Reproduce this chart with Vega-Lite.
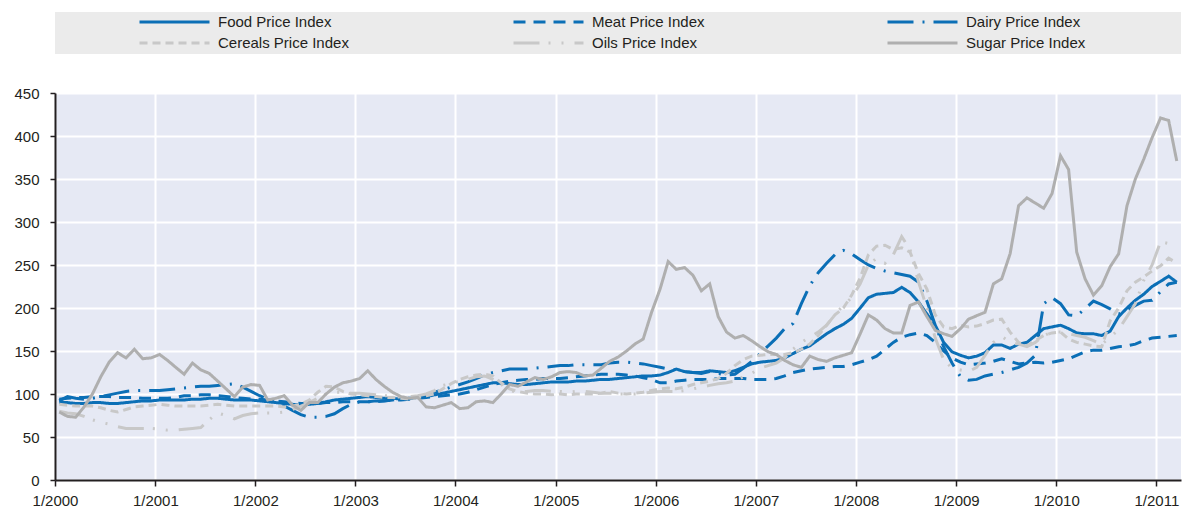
{
  "$schema": "https://vega.github.io/schema/vega-lite/v6.json",
  "autosize": {"type": "pad"},
  "padding": {"left": 13, "top": 12, "right": 0, "bottom": 0},
  "background": "#ffffff",
  "bounds": "flush",
  "spacing": 39,
  "config": {
    "font": "Liberation Sans",
    "view": {"stroke": null},
    "axis": {
      "labelFont": "Liberation Sans",
      "labelFontSize": 15,
      "labelColor": "#231f20",
      "domainColor": "#231f20",
      "domainWidth": 2,
      "tickColor": "#231f20",
      "tickWidth": 1.5,
      "gridColor": "#ffffff",
      "gridWidth": 2,
      "title": null
    },
    "legend": {
      "labelFont": "Liberation Sans"
    }
  },
  "datasets": {
    "fao": [
{"series":"Food","month":"2000-01","value":90},{"series":"Food","month":"2000-02","value":90},{"series":"Food","month":"2000-03","value":89},{"series":"Food","month":"2000-04","value":89},{"series":"Food","month":"2000-05","value":90},{"series":"Food","month":"2000-06","value":90},{"series":"Food","month":"2000-07","value":89},{"series":"Food","month":"2000-08","value":89},{"series":"Food","month":"2000-09","value":90},{"series":"Food","month":"2000-10","value":91},{"series":"Food","month":"2000-11","value":92},{"series":"Food","month":"2000-12","value":92},
{"series":"Food","month":"2001-01","value":93},{"series":"Food","month":"2001-02","value":93},{"series":"Food","month":"2001-03","value":93},{"series":"Food","month":"2001-04","value":93},{"series":"Food","month":"2001-05","value":94},{"series":"Food","month":"2001-06","value":94},{"series":"Food","month":"2001-07","value":95},{"series":"Food","month":"2001-08","value":95},{"series":"Food","month":"2001-09","value":94},{"series":"Food","month":"2001-10","value":93},{"series":"Food","month":"2001-11","value":93},{"series":"Food","month":"2001-12","value":93},
{"series":"Food","month":"2002-01","value":92},{"series":"Food","month":"2002-02","value":91},{"series":"Food","month":"2002-03","value":90},{"series":"Food","month":"2002-04","value":89},{"series":"Food","month":"2002-05","value":88},{"series":"Food","month":"2002-06","value":87},{"series":"Food","month":"2002-07","value":88},{"series":"Food","month":"2002-08","value":89},{"series":"Food","month":"2002-09","value":91},{"series":"Food","month":"2002-10","value":93},{"series":"Food","month":"2002-11","value":94},{"series":"Food","month":"2002-12","value":95},
{"series":"Food","month":"2003-01","value":96},{"series":"Food","month":"2003-02","value":97},{"series":"Food","month":"2003-03","value":96},{"series":"Food","month":"2003-04","value":95},{"series":"Food","month":"2003-05","value":95},{"series":"Food","month":"2003-06","value":94},{"series":"Food","month":"2003-07","value":95},{"series":"Food","month":"2003-08","value":96},{"series":"Food","month":"2003-09","value":97},{"series":"Food","month":"2003-10","value":99},{"series":"Food","month":"2003-11","value":101},{"series":"Food","month":"2003-12","value":103},
{"series":"Food","month":"2004-01","value":105},{"series":"Food","month":"2004-02","value":107},{"series":"Food","month":"2004-03","value":109},{"series":"Food","month":"2004-04","value":111},{"series":"Food","month":"2004-05","value":113},{"series":"Food","month":"2004-06","value":113},{"series":"Food","month":"2004-07","value":112},{"series":"Food","month":"2004-08","value":111},{"series":"Food","month":"2004-09","value":111},{"series":"Food","month":"2004-10","value":112},{"series":"Food","month":"2004-11","value":113},{"series":"Food","month":"2004-12","value":114},
{"series":"Food","month":"2005-01","value":114},{"series":"Food","month":"2005-02","value":114},{"series":"Food","month":"2005-03","value":115},{"series":"Food","month":"2005-04","value":115},{"series":"Food","month":"2005-05","value":116},{"series":"Food","month":"2005-06","value":117},{"series":"Food","month":"2005-07","value":117},{"series":"Food","month":"2005-08","value":118},{"series":"Food","month":"2005-09","value":119},{"series":"Food","month":"2005-10","value":120},{"series":"Food","month":"2005-11","value":121},{"series":"Food","month":"2005-12","value":121},
{"series":"Food","month":"2006-01","value":122},{"series":"Food","month":"2006-02","value":125},{"series":"Food","month":"2006-03","value":129},{"series":"Food","month":"2006-04","value":126},{"series":"Food","month":"2006-05","value":125},{"series":"Food","month":"2006-06","value":125},{"series":"Food","month":"2006-07","value":127},{"series":"Food","month":"2006-08","value":126},{"series":"Food","month":"2006-09","value":125},{"series":"Food","month":"2006-10","value":127},{"series":"Food","month":"2006-11","value":131},{"series":"Food","month":"2006-12","value":135},
{"series":"Food","month":"2007-01","value":137},{"series":"Food","month":"2007-02","value":138},{"series":"Food","month":"2007-03","value":139},{"series":"Food","month":"2007-04","value":142},{"series":"Food","month":"2007-05","value":147},{"series":"Food","month":"2007-06","value":152},{"series":"Food","month":"2007-07","value":156},{"series":"Food","month":"2007-08","value":163},{"series":"Food","month":"2007-09","value":170},{"series":"Food","month":"2007-10","value":176},{"series":"Food","month":"2007-11","value":181},{"series":"Food","month":"2007-12","value":188},
{"series":"Food","month":"2008-01","value":200},{"series":"Food","month":"2008-02","value":212},{"series":"Food","month":"2008-03","value":216},{"series":"Food","month":"2008-04","value":217},{"series":"Food","month":"2008-05","value":218},{"series":"Food","month":"2008-06","value":224},{"series":"Food","month":"2008-07","value":218},{"series":"Food","month":"2008-08","value":207},{"series":"Food","month":"2008-09","value":193},{"series":"Food","month":"2008-10","value":180},{"series":"Food","month":"2008-11","value":160},{"series":"Food","month":"2008-12","value":149},
{"series":"Food","month":"2009-01","value":145},{"series":"Food","month":"2009-02","value":142},{"series":"Food","month":"2009-03","value":144},{"series":"Food","month":"2009-04","value":148},{"series":"Food","month":"2009-05","value":157},{"series":"Food","month":"2009-06","value":157},{"series":"Food","month":"2009-07","value":153},{"series":"Food","month":"2009-08","value":158},{"series":"Food","month":"2009-09","value":160},{"series":"Food","month":"2009-10","value":168},{"series":"Food","month":"2009-11","value":176},{"series":"Food","month":"2009-12","value":178},
{"series":"Food","month":"2010-01","value":180},{"series":"Food","month":"2010-02","value":176},{"series":"Food","month":"2010-03","value":171},{"series":"Food","month":"2010-04","value":170},{"series":"Food","month":"2010-05","value":170},{"series":"Food","month":"2010-06","value":168},{"series":"Food","month":"2010-07","value":173},{"series":"Food","month":"2010-08","value":190},{"series":"Food","month":"2010-09","value":200},{"series":"Food","month":"2010-10","value":209},{"series":"Food","month":"2010-11","value":216},{"series":"Food","month":"2010-12","value":225},
{"series":"Food","month":"2011-01","value":231},{"series":"Food","month":"2011-02","value":237},{"series":"Food","month":"2011-03","value":230},
{"series":"Meat","month":"2000-01","value":94},{"series":"Meat","month":"2000-02","value":95},{"series":"Meat","month":"2000-03","value":96},{"series":"Meat","month":"2000-04","value":96},{"series":"Meat","month":"2000-05","value":97},{"series":"Meat","month":"2000-06","value":97},{"series":"Meat","month":"2000-07","value":97},{"series":"Meat","month":"2000-08","value":96},{"series":"Meat","month":"2000-09","value":96},{"series":"Meat","month":"2000-10","value":96},{"series":"Meat","month":"2000-11","value":95},{"series":"Meat","month":"2000-12","value":95},
{"series":"Meat","month":"2001-01","value":95},{"series":"Meat","month":"2001-02","value":95},{"series":"Meat","month":"2001-03","value":96},{"series":"Meat","month":"2001-04","value":98},{"series":"Meat","month":"2001-05","value":98},{"series":"Meat","month":"2001-06","value":99},{"series":"Meat","month":"2001-07","value":99},{"series":"Meat","month":"2001-08","value":98},{"series":"Meat","month":"2001-09","value":97},{"series":"Meat","month":"2001-10","value":96},{"series":"Meat","month":"2001-11","value":95},{"series":"Meat","month":"2001-12","value":94},
{"series":"Meat","month":"2002-01","value":94},{"series":"Meat","month":"2002-02","value":93},{"series":"Meat","month":"2002-03","value":92},{"series":"Meat","month":"2002-04","value":91},{"series":"Meat","month":"2002-05","value":90},{"series":"Meat","month":"2002-06","value":89},{"series":"Meat","month":"2002-07","value":89},{"series":"Meat","month":"2002-08","value":89},{"series":"Meat","month":"2002-09","value":90},{"series":"Meat","month":"2002-10","value":90},{"series":"Meat","month":"2002-11","value":91},{"series":"Meat","month":"2002-12","value":91},
{"series":"Meat","month":"2003-01","value":91},{"series":"Meat","month":"2003-02","value":91},{"series":"Meat","month":"2003-03","value":91},{"series":"Meat","month":"2003-04","value":92},{"series":"Meat","month":"2003-05","value":93},{"series":"Meat","month":"2003-06","value":93},{"series":"Meat","month":"2003-07","value":94},{"series":"Meat","month":"2003-08","value":95},{"series":"Meat","month":"2003-09","value":96},{"series":"Meat","month":"2003-10","value":97},{"series":"Meat","month":"2003-11","value":98},{"series":"Meat","month":"2003-12","value":99},
{"series":"Meat","month":"2004-01","value":100},{"series":"Meat","month":"2004-02","value":102},{"series":"Meat","month":"2004-03","value":105},{"series":"Meat","month":"2004-04","value":108},{"series":"Meat","month":"2004-05","value":111},{"series":"Meat","month":"2004-06","value":113},{"series":"Meat","month":"2004-07","value":115},{"series":"Meat","month":"2004-08","value":116},{"series":"Meat","month":"2004-09","value":117},{"series":"Meat","month":"2004-10","value":117},{"series":"Meat","month":"2004-11","value":118},{"series":"Meat","month":"2004-12","value":118},
{"series":"Meat","month":"2005-01","value":118},{"series":"Meat","month":"2005-02","value":119},{"series":"Meat","month":"2005-03","value":120},{"series":"Meat","month":"2005-04","value":121},{"series":"Meat","month":"2005-05","value":122},{"series":"Meat","month":"2005-06","value":123},{"series":"Meat","month":"2005-07","value":123},{"series":"Meat","month":"2005-08","value":123},{"series":"Meat","month":"2005-09","value":122},{"series":"Meat","month":"2005-10","value":121},{"series":"Meat","month":"2005-11","value":119},{"series":"Meat","month":"2005-12","value":117},
{"series":"Meat","month":"2006-01","value":113},{"series":"Meat","month":"2006-02","value":113},{"series":"Meat","month":"2006-03","value":115},{"series":"Meat","month":"2006-04","value":116},{"series":"Meat","month":"2006-05","value":117},{"series":"Meat","month":"2006-06","value":117},{"series":"Meat","month":"2006-07","value":117},{"series":"Meat","month":"2006-08","value":118},{"series":"Meat","month":"2006-09","value":118},{"series":"Meat","month":"2006-10","value":118},{"series":"Meat","month":"2006-11","value":118},{"series":"Meat","month":"2006-12","value":117},
{"series":"Meat","month":"2007-01","value":117},{"series":"Meat","month":"2007-02","value":117},{"series":"Meat","month":"2007-03","value":118},{"series":"Meat","month":"2007-04","value":121},{"series":"Meat","month":"2007-05","value":125},{"series":"Meat","month":"2007-06","value":127},{"series":"Meat","month":"2007-07","value":129},{"series":"Meat","month":"2007-08","value":130},{"series":"Meat","month":"2007-09","value":131},{"series":"Meat","month":"2007-10","value":132},{"series":"Meat","month":"2007-11","value":132},{"series":"Meat","month":"2007-12","value":134},
{"series":"Meat","month":"2008-01","value":137},{"series":"Meat","month":"2008-02","value":140},{"series":"Meat","month":"2008-03","value":144},{"series":"Meat","month":"2008-04","value":152},{"series":"Meat","month":"2008-05","value":160},{"series":"Meat","month":"2008-06","value":166},{"series":"Meat","month":"2008-07","value":169},{"series":"Meat","month":"2008-08","value":171},{"series":"Meat","month":"2008-09","value":168},{"series":"Meat","month":"2008-10","value":160},{"series":"Meat","month":"2008-11","value":150},{"series":"Meat","month":"2008-12","value":142},
{"series":"Meat","month":"2009-01","value":137},{"series":"Meat","month":"2009-02","value":134},{"series":"Meat","month":"2009-03","value":135},{"series":"Meat","month":"2009-04","value":136},{"series":"Meat","month":"2009-05","value":138},{"series":"Meat","month":"2009-06","value":141},{"series":"Meat","month":"2009-07","value":138},{"series":"Meat","month":"2009-08","value":135},{"series":"Meat","month":"2009-09","value":136},{"series":"Meat","month":"2009-10","value":137},{"series":"Meat","month":"2009-11","value":136},{"series":"Meat","month":"2009-12","value":137},
{"series":"Meat","month":"2010-01","value":139},{"series":"Meat","month":"2010-02","value":141},{"series":"Meat","month":"2010-03","value":145},{"series":"Meat","month":"2010-04","value":149},{"series":"Meat","month":"2010-05","value":151},{"series":"Meat","month":"2010-06","value":151},{"series":"Meat","month":"2010-07","value":153},{"series":"Meat","month":"2010-08","value":155},{"series":"Meat","month":"2010-09","value":156},{"series":"Meat","month":"2010-10","value":158},{"series":"Meat","month":"2010-11","value":162},{"series":"Meat","month":"2010-12","value":165},
{"series":"Meat","month":"2011-01","value":166},{"series":"Meat","month":"2011-02","value":167},{"series":"Meat","month":"2011-03","value":168},
{"series":"Dairy","month":"2000-01","value":92},{"series":"Dairy","month":"2000-02","value":97},{"series":"Dairy","month":"2000-03","value":95},{"series":"Dairy","month":"2000-04","value":94},{"series":"Dairy","month":"2000-05","value":95},{"series":"Dairy","month":"2000-06","value":97},{"series":"Dairy","month":"2000-07","value":99},{"series":"Dairy","month":"2000-08","value":101},{"series":"Dairy","month":"2000-09","value":103},{"series":"Dairy","month":"2000-10","value":104},{"series":"Dairy","month":"2000-11","value":104},{"series":"Dairy","month":"2000-12","value":104},
{"series":"Dairy","month":"2001-01","value":104},{"series":"Dairy","month":"2001-02","value":105},{"series":"Dairy","month":"2001-03","value":106},{"series":"Dairy","month":"2001-04","value":107},{"series":"Dairy","month":"2001-05","value":108},{"series":"Dairy","month":"2001-06","value":109},{"series":"Dairy","month":"2001-07","value":109},{"series":"Dairy","month":"2001-08","value":110},{"series":"Dairy","month":"2001-09","value":111},{"series":"Dairy","month":"2001-10","value":112},{"series":"Dairy","month":"2001-11","value":108},{"series":"Dairy","month":"2001-12","value":103},
{"series":"Dairy","month":"2002-01","value":98},{"series":"Dairy","month":"2002-02","value":94},{"series":"Dairy","month":"2002-03","value":90},{"series":"Dairy","month":"2002-04","value":86},{"series":"Dairy","month":"2002-05","value":81},{"series":"Dairy","month":"2002-06","value":76},{"series":"Dairy","month":"2002-07","value":73},{"series":"Dairy","month":"2002-08","value":73},{"series":"Dairy","month":"2002-09","value":74},{"series":"Dairy","month":"2002-10","value":77},{"series":"Dairy","month":"2002-11","value":83},{"series":"Dairy","month":"2002-12","value":88},
{"series":"Dairy","month":"2003-01","value":91},{"series":"Dairy","month":"2003-02","value":91},{"series":"Dairy","month":"2003-03","value":92},{"series":"Dairy","month":"2003-04","value":92},{"series":"Dairy","month":"2003-05","value":93},{"series":"Dairy","month":"2003-06","value":94},{"series":"Dairy","month":"2003-07","value":95},{"series":"Dairy","month":"2003-08","value":97},{"series":"Dairy","month":"2003-09","value":99},{"series":"Dairy","month":"2003-10","value":102},{"series":"Dairy","month":"2003-11","value":105},{"series":"Dairy","month":"2003-12","value":108},
{"series":"Dairy","month":"2004-01","value":111},{"series":"Dairy","month":"2004-02","value":114},{"series":"Dairy","month":"2004-03","value":118},{"series":"Dairy","month":"2004-04","value":122},{"series":"Dairy","month":"2004-05","value":125},{"series":"Dairy","month":"2004-06","value":127},{"series":"Dairy","month":"2004-07","value":129},{"series":"Dairy","month":"2004-08","value":129},{"series":"Dairy","month":"2004-09","value":129},{"series":"Dairy","month":"2004-10","value":130},{"series":"Dairy","month":"2004-11","value":131},{"series":"Dairy","month":"2004-12","value":132},
{"series":"Dairy","month":"2005-01","value":133},{"series":"Dairy","month":"2005-02","value":133},{"series":"Dairy","month":"2005-03","value":134},{"series":"Dairy","month":"2005-04","value":134},{"series":"Dairy","month":"2005-05","value":134},{"series":"Dairy","month":"2005-06","value":134},{"series":"Dairy","month":"2005-07","value":136},{"series":"Dairy","month":"2005-08","value":137},{"series":"Dairy","month":"2005-09","value":137},{"series":"Dairy","month":"2005-10","value":136},{"series":"Dairy","month":"2005-11","value":135},{"series":"Dairy","month":"2005-12","value":133},
{"series":"Dairy","month":"2006-01","value":131},{"series":"Dairy","month":"2006-02","value":129},{"series":"Dairy","month":"2006-03","value":128},{"series":"Dairy","month":"2006-04","value":126},{"series":"Dairy","month":"2006-05","value":125},{"series":"Dairy","month":"2006-06","value":124},{"series":"Dairy","month":"2006-07","value":126},{"series":"Dairy","month":"2006-08","value":124},{"series":"Dairy","month":"2006-09","value":122},{"series":"Dairy","month":"2006-10","value":123},{"series":"Dairy","month":"2006-11","value":130},{"series":"Dairy","month":"2006-12","value":138},
{"series":"Dairy","month":"2007-01","value":147},{"series":"Dairy","month":"2007-02","value":156},{"series":"Dairy","month":"2007-03","value":165},{"series":"Dairy","month":"2007-04","value":176},{"series":"Dairy","month":"2007-05","value":182},{"series":"Dairy","month":"2007-06","value":205},{"series":"Dairy","month":"2007-07","value":226},{"series":"Dairy","month":"2007-08","value":241},{"series":"Dairy","month":"2007-09","value":252},{"series":"Dairy","month":"2007-10","value":262},{"series":"Dairy","month":"2007-11","value":267},{"series":"Dairy","month":"2007-12","value":263},
{"series":"Dairy","month":"2008-01","value":256},{"series":"Dairy","month":"2008-02","value":250},{"series":"Dairy","month":"2008-03","value":246},{"series":"Dairy","month":"2008-04","value":243},{"series":"Dairy","month":"2008-05","value":241},{"series":"Dairy","month":"2008-06","value":239},{"series":"Dairy","month":"2008-07","value":237},{"series":"Dairy","month":"2008-08","value":230},{"series":"Dairy","month":"2008-09","value":208},{"series":"Dairy","month":"2008-10","value":180},{"series":"Dairy","month":"2008-11","value":155},{"series":"Dairy","month":"2008-12","value":136},
{"series":"Dairy","month":"2009-01","value":120},{"series":"Dairy","month":"2009-02","value":116},{"series":"Dairy","month":"2009-03","value":117},{"series":"Dairy","month":"2009-04","value":121},{"series":"Dairy","month":"2009-05","value":123},{"series":"Dairy","month":"2009-06","value":125},{"series":"Dairy","month":"2009-07","value":128},{"series":"Dairy","month":"2009-08","value":131},{"series":"Dairy","month":"2009-09","value":136},{"series":"Dairy","month":"2009-10","value":145},{"series":"Dairy","month":"2009-11","value":205},{"series":"Dairy","month":"2009-12","value":212},
{"series":"Dairy","month":"2010-01","value":205},{"series":"Dairy","month":"2010-02","value":192},{"series":"Dairy","month":"2010-03","value":191},{"series":"Dairy","month":"2010-04","value":199},{"series":"Dairy","month":"2010-05","value":208},{"series":"Dairy","month":"2010-06","value":204},{"series":"Dairy","month":"2010-07","value":199},{"series":"Dairy","month":"2010-08","value":193},{"series":"Dairy","month":"2010-09","value":197},{"series":"Dairy","month":"2010-10","value":203},{"series":"Dairy","month":"2010-11","value":208},{"series":"Dairy","month":"2010-12","value":209},
{"series":"Dairy","month":"2011-01","value":219},{"series":"Dairy","month":"2011-02","value":228},{"series":"Dairy","month":"2011-03","value":230},
{"series":"Cereals","month":"2000-01","value":88},{"series":"Cereals","month":"2000-02","value":87},{"series":"Cereals","month":"2000-03","value":86},{"series":"Cereals","month":"2000-04","value":86},{"series":"Cereals","month":"2000-05","value":86},{"series":"Cereals","month":"2000-06","value":84},{"series":"Cereals","month":"2000-07","value":81},{"series":"Cereals","month":"2000-08","value":79},{"series":"Cereals","month":"2000-09","value":82},{"series":"Cereals","month":"2000-10","value":85},{"series":"Cereals","month":"2000-11","value":86},{"series":"Cereals","month":"2000-12","value":87},
{"series":"Cereals","month":"2001-01","value":88},{"series":"Cereals","month":"2001-02","value":87},{"series":"Cereals","month":"2001-03","value":86},{"series":"Cereals","month":"2001-04","value":86},{"series":"Cereals","month":"2001-05","value":86},{"series":"Cereals","month":"2001-06","value":86},{"series":"Cereals","month":"2001-07","value":87},{"series":"Cereals","month":"2001-08","value":88},{"series":"Cereals","month":"2001-09","value":87},{"series":"Cereals","month":"2001-10","value":86},{"series":"Cereals","month":"2001-11","value":86},{"series":"Cereals","month":"2001-12","value":86},
{"series":"Cereals","month":"2002-01","value":86},{"series":"Cereals","month":"2002-02","value":86},{"series":"Cereals","month":"2002-03","value":86},{"series":"Cereals","month":"2002-04","value":85},{"series":"Cereals","month":"2002-05","value":86},{"series":"Cereals","month":"2002-06","value":88},{"series":"Cereals","month":"2002-07","value":93},{"series":"Cereals","month":"2002-08","value":102},{"series":"Cereals","month":"2002-09","value":109},{"series":"Cereals","month":"2002-10","value":108},{"series":"Cereals","month":"2002-11","value":103},{"series":"Cereals","month":"2002-12","value":100},
{"series":"Cereals","month":"2003-01","value":99},{"series":"Cereals","month":"2003-02","value":98},{"series":"Cereals","month":"2003-03","value":97},{"series":"Cereals","month":"2003-04","value":96},{"series":"Cereals","month":"2003-05","value":96},{"series":"Cereals","month":"2003-06","value":95},{"series":"Cereals","month":"2003-07","value":94},{"series":"Cereals","month":"2003-08","value":96},{"series":"Cereals","month":"2003-09","value":98},{"series":"Cereals","month":"2003-10","value":100},{"series":"Cereals","month":"2003-11","value":106},{"series":"Cereals","month":"2003-12","value":112},
{"series":"Cereals","month":"2004-01","value":117},{"series":"Cereals","month":"2004-02","value":120},{"series":"Cereals","month":"2004-03","value":122},{"series":"Cereals","month":"2004-04","value":123},{"series":"Cereals","month":"2004-05","value":121},{"series":"Cereals","month":"2004-06","value":113},{"series":"Cereals","month":"2004-07","value":106},{"series":"Cereals","month":"2004-08","value":103},{"series":"Cereals","month":"2004-09","value":101},{"series":"Cereals","month":"2004-10","value":100},{"series":"Cereals","month":"2004-11","value":100},{"series":"Cereals","month":"2004-12","value":99},
{"series":"Cereals","month":"2005-01","value":100},{"series":"Cereals","month":"2005-02","value":99},{"series":"Cereals","month":"2005-03","value":100},{"series":"Cereals","month":"2005-04","value":100},{"series":"Cereals","month":"2005-05","value":100},{"series":"Cereals","month":"2005-06","value":101},{"series":"Cereals","month":"2005-07","value":103},{"series":"Cereals","month":"2005-08","value":101},{"series":"Cereals","month":"2005-09","value":100},{"series":"Cereals","month":"2005-10","value":101},{"series":"Cereals","month":"2005-11","value":102},{"series":"Cereals","month":"2005-12","value":104},
{"series":"Cereals","month":"2006-01","value":106},{"series":"Cereals","month":"2006-02","value":107},{"series":"Cereals","month":"2006-03","value":106},{"series":"Cereals","month":"2006-04","value":108},{"series":"Cereals","month":"2006-05","value":111},{"series":"Cereals","month":"2006-06","value":113},{"series":"Cereals","month":"2006-07","value":115},{"series":"Cereals","month":"2006-08","value":118},{"series":"Cereals","month":"2006-09","value":124},{"series":"Cereals","month":"2006-10","value":133},{"series":"Cereals","month":"2006-11","value":140},{"series":"Cereals","month":"2006-12","value":144},
{"series":"Cereals","month":"2007-01","value":145},{"series":"Cereals","month":"2007-02","value":146},{"series":"Cereals","month":"2007-03","value":146},{"series":"Cereals","month":"2007-04","value":146},{"series":"Cereals","month":"2007-05","value":148},{"series":"Cereals","month":"2007-06","value":152},{"series":"Cereals","month":"2007-07","value":158},{"series":"Cereals","month":"2007-08","value":168},{"series":"Cereals","month":"2007-09","value":180},{"series":"Cereals","month":"2007-10","value":192},{"series":"Cereals","month":"2007-11","value":200},{"series":"Cereals","month":"2007-12","value":215},
{"series":"Cereals","month":"2008-01","value":235},{"series":"Cereals","month":"2008-02","value":262},{"series":"Cereals","month":"2008-03","value":272},{"series":"Cereals","month":"2008-04","value":273},{"series":"Cereals","month":"2008-05","value":268},{"series":"Cereals","month":"2008-06","value":270},{"series":"Cereals","month":"2008-07","value":265},{"series":"Cereals","month":"2008-08","value":240},{"series":"Cereals","month":"2008-09","value":222},{"series":"Cereals","month":"2008-10","value":192},{"series":"Cereals","month":"2008-11","value":178},{"series":"Cereals","month":"2008-12","value":176},
{"series":"Cereals","month":"2009-01","value":180},{"series":"Cereals","month":"2009-02","value":178},{"series":"Cereals","month":"2009-03","value":179},{"series":"Cereals","month":"2009-04","value":182},{"series":"Cereals","month":"2009-05","value":186},{"series":"Cereals","month":"2009-06","value":187},{"series":"Cereals","month":"2009-07","value":172},{"series":"Cereals","month":"2009-08","value":160},{"series":"Cereals","month":"2009-09","value":156},{"series":"Cereals","month":"2009-10","value":162},{"series":"Cereals","month":"2009-11","value":168},{"series":"Cereals","month":"2009-12","value":171},
{"series":"Cereals","month":"2010-01","value":172},{"series":"Cereals","month":"2010-02","value":164},{"series":"Cereals","month":"2010-03","value":160},{"series":"Cereals","month":"2010-04","value":158},{"series":"Cereals","month":"2010-05","value":156},{"series":"Cereals","month":"2010-06","value":155},{"series":"Cereals","month":"2010-07","value":185},{"series":"Cereals","month":"2010-08","value":200},{"series":"Cereals","month":"2010-09","value":220},{"series":"Cereals","month":"2010-10","value":230},{"series":"Cereals","month":"2010-11","value":236},{"series":"Cereals","month":"2010-12","value":243},
{"series":"Cereals","month":"2011-01","value":249},{"series":"Cereals","month":"2011-02","value":258},{"series":"Cereals","month":"2011-03","value":252},
{"series":"Oils","month":"2000-01","value":80},{"series":"Oils","month":"2000-02","value":78},{"series":"Oils","month":"2000-03","value":77},{"series":"Oils","month":"2000-04","value":74},{"series":"Oils","month":"2000-05","value":70},{"series":"Oils","month":"2000-06","value":67},{"series":"Oils","month":"2000-07","value":65},{"series":"Oils","month":"2000-08","value":62},{"series":"Oils","month":"2000-09","value":60},{"series":"Oils","month":"2000-10","value":60},{"series":"Oils","month":"2000-11","value":60},{"series":"Oils","month":"2000-12","value":60},
{"series":"Oils","month":"2001-01","value":59},{"series":"Oils","month":"2001-02","value":58},{"series":"Oils","month":"2001-03","value":58},{"series":"Oils","month":"2001-04","value":59},{"series":"Oils","month":"2001-05","value":60},{"series":"Oils","month":"2001-06","value":61},{"series":"Oils","month":"2001-07","value":70},{"series":"Oils","month":"2001-08","value":78},{"series":"Oils","month":"2001-09","value":75},{"series":"Oils","month":"2001-10","value":71},{"series":"Oils","month":"2001-11","value":75},{"series":"Oils","month":"2001-12","value":77},
{"series":"Oils","month":"2002-01","value":78},{"series":"Oils","month":"2002-02","value":78},{"series":"Oils","month":"2002-03","value":78},{"series":"Oils","month":"2002-04","value":79},{"series":"Oils","month":"2002-05","value":82},{"series":"Oils","month":"2002-06","value":86},{"series":"Oils","month":"2002-07","value":90},{"series":"Oils","month":"2002-08","value":95},{"series":"Oils","month":"2002-09","value":100},{"series":"Oils","month":"2002-10","value":102},{"series":"Oils","month":"2002-11","value":102},{"series":"Oils","month":"2002-12","value":101},
{"series":"Oils","month":"2003-01","value":101},{"series":"Oils","month":"2003-02","value":100},{"series":"Oils","month":"2003-03","value":99},{"series":"Oils","month":"2003-04","value":98},{"series":"Oils","month":"2003-05","value":98},{"series":"Oils","month":"2003-06","value":96},{"series":"Oils","month":"2003-07","value":97},{"series":"Oils","month":"2003-08","value":98},{"series":"Oils","month":"2003-09","value":100},{"series":"Oils","month":"2003-10","value":104},{"series":"Oils","month":"2003-11","value":110},{"series":"Oils","month":"2003-12","value":112},
{"series":"Oils","month":"2004-01","value":115},{"series":"Oils","month":"2004-02","value":117},{"series":"Oils","month":"2004-03","value":120},{"series":"Oils","month":"2004-04","value":121},{"series":"Oils","month":"2004-05","value":117},{"series":"Oils","month":"2004-06","value":111},{"series":"Oils","month":"2004-07","value":104},{"series":"Oils","month":"2004-08","value":102},{"series":"Oils","month":"2004-09","value":103},{"series":"Oils","month":"2004-10","value":104},{"series":"Oils","month":"2004-11","value":104},{"series":"Oils","month":"2004-12","value":103},
{"series":"Oils","month":"2005-01","value":103},{"series":"Oils","month":"2005-02","value":102},{"series":"Oils","month":"2005-03","value":103},{"series":"Oils","month":"2005-04","value":103},{"series":"Oils","month":"2005-05","value":102},{"series":"Oils","month":"2005-06","value":101},{"series":"Oils","month":"2005-07","value":101},{"series":"Oils","month":"2005-08","value":100},{"series":"Oils","month":"2005-09","value":100},{"series":"Oils","month":"2005-10","value":100},{"series":"Oils","month":"2005-11","value":101},{"series":"Oils","month":"2005-12","value":102},
{"series":"Oils","month":"2006-01","value":103},{"series":"Oils","month":"2006-02","value":103},{"series":"Oils","month":"2006-03","value":103},{"series":"Oils","month":"2006-04","value":104},{"series":"Oils","month":"2006-05","value":106},{"series":"Oils","month":"2006-06","value":108},{"series":"Oils","month":"2006-07","value":110},{"series":"Oils","month":"2006-08","value":112},{"series":"Oils","month":"2006-09","value":113},{"series":"Oils","month":"2006-10","value":115},{"series":"Oils","month":"2006-11","value":120},{"series":"Oils","month":"2006-12","value":124},
{"series":"Oils","month":"2007-01","value":130},{"series":"Oils","month":"2007-02","value":133},{"series":"Oils","month":"2007-03","value":136},{"series":"Oils","month":"2007-04","value":142},{"series":"Oils","month":"2007-05","value":152},{"series":"Oils","month":"2007-06","value":160},{"series":"Oils","month":"2007-07","value":166},{"series":"Oils","month":"2007-08","value":172},{"series":"Oils","month":"2007-09","value":180},{"series":"Oils","month":"2007-10","value":192},{"series":"Oils","month":"2007-11","value":203},{"series":"Oils","month":"2007-12","value":212},
{"series":"Oils","month":"2008-01","value":228},{"series":"Oils","month":"2008-02","value":250},{"series":"Oils","month":"2008-03","value":258},{"series":"Oils","month":"2008-04","value":252},{"series":"Oils","month":"2008-05","value":262},{"series":"Oils","month":"2008-06","value":283},{"series":"Oils","month":"2008-07","value":268},{"series":"Oils","month":"2008-08","value":230},{"series":"Oils","month":"2008-09","value":200},{"series":"Oils","month":"2008-10","value":165},{"series":"Oils","month":"2008-11","value":140},{"series":"Oils","month":"2008-12","value":130},
{"series":"Oils","month":"2009-01","value":128},{"series":"Oils","month":"2009-02","value":126},{"series":"Oils","month":"2009-03","value":131},{"series":"Oils","month":"2009-04","value":145},{"series":"Oils","month":"2009-05","value":160},{"series":"Oils","month":"2009-06","value":167},{"series":"Oils","month":"2009-07","value":160},{"series":"Oils","month":"2009-08","value":158},{"series":"Oils","month":"2009-09","value":155},{"series":"Oils","month":"2009-10","value":160},{"series":"Oils","month":"2009-11","value":168},{"series":"Oils","month":"2009-12","value":172},
{"series":"Oils","month":"2010-01","value":172},{"series":"Oils","month":"2010-02","value":170},{"series":"Oils","month":"2010-03","value":168},{"series":"Oils","month":"2010-04","value":166},{"series":"Oils","month":"2010-05","value":162},{"series":"Oils","month":"2010-06","value":158},{"series":"Oils","month":"2010-07","value":166},{"series":"Oils","month":"2010-08","value":175},{"series":"Oils","month":"2010-09","value":190},{"series":"Oils","month":"2010-10","value":205},{"series":"Oils","month":"2010-11","value":232},{"series":"Oils","month":"2010-12","value":250},
{"series":"Oils","month":"2011-01","value":277},{"series":"Oils","month":"2011-02","value":275},{"series":"Oils","month":"2011-03","value":272},
{"series":"Sugar","month":"2000-01","value":79},{"series":"Sugar","month":"2000-02","value":74},{"series":"Sugar","month":"2000-03","value":73},{"series":"Sugar","month":"2000-04","value":85},{"series":"Sugar","month":"2000-05","value":100},{"series":"Sugar","month":"2000-06","value":120},{"series":"Sugar","month":"2000-07","value":137},{"series":"Sugar","month":"2000-08","value":148},{"series":"Sugar","month":"2000-09","value":142},{"series":"Sugar","month":"2000-10","value":152},{"series":"Sugar","month":"2000-11","value":141},{"series":"Sugar","month":"2000-12","value":142},
{"series":"Sugar","month":"2001-01","value":146},{"series":"Sugar","month":"2001-02","value":139},{"series":"Sugar","month":"2001-03","value":131},{"series":"Sugar","month":"2001-04","value":123},{"series":"Sugar","month":"2001-05","value":136},{"series":"Sugar","month":"2001-06","value":128},{"series":"Sugar","month":"2001-07","value":124},{"series":"Sugar","month":"2001-08","value":115},{"series":"Sugar","month":"2001-09","value":106},{"series":"Sugar","month":"2001-10","value":97},{"series":"Sugar","month":"2001-11","value":108},{"series":"Sugar","month":"2001-12","value":111},
{"series":"Sugar","month":"2002-01","value":110},{"series":"Sugar","month":"2002-02","value":93},{"series":"Sugar","month":"2002-03","value":95},{"series":"Sugar","month":"2002-04","value":98},{"series":"Sugar","month":"2002-05","value":87},{"series":"Sugar","month":"2002-06","value":81},{"series":"Sugar","month":"2002-07","value":90},{"series":"Sugar","month":"2002-08","value":90},{"series":"Sugar","month":"2002-09","value":100},{"series":"Sugar","month":"2002-10","value":108},{"series":"Sugar","month":"2002-11","value":113},{"series":"Sugar","month":"2002-12","value":115},
{"series":"Sugar","month":"2003-01","value":118},{"series":"Sugar","month":"2003-02","value":127},{"series":"Sugar","month":"2003-03","value":117},{"series":"Sugar","month":"2003-04","value":109},{"series":"Sugar","month":"2003-05","value":102},{"series":"Sugar","month":"2003-06","value":97},{"series":"Sugar","month":"2003-07","value":95},{"series":"Sugar","month":"2003-08","value":96},{"series":"Sugar","month":"2003-09","value":85},{"series":"Sugar","month":"2003-10","value":84},{"series":"Sugar","month":"2003-11","value":87},{"series":"Sugar","month":"2003-12","value":90},
{"series":"Sugar","month":"2004-01","value":83},{"series":"Sugar","month":"2004-02","value":84},{"series":"Sugar","month":"2004-03","value":91},{"series":"Sugar","month":"2004-04","value":92},{"series":"Sugar","month":"2004-05","value":90},{"series":"Sugar","month":"2004-06","value":100},{"series":"Sugar","month":"2004-07","value":111},{"series":"Sugar","month":"2004-08","value":109},{"series":"Sugar","month":"2004-09","value":114},{"series":"Sugar","month":"2004-10","value":119},{"series":"Sugar","month":"2004-11","value":117},{"series":"Sugar","month":"2004-12","value":120},
{"series":"Sugar","month":"2005-01","value":125},{"series":"Sugar","month":"2005-02","value":126},{"series":"Sugar","month":"2005-03","value":125},{"series":"Sugar","month":"2005-04","value":121},{"series":"Sugar","month":"2005-05","value":122},{"series":"Sugar","month":"2005-06","value":130},{"series":"Sugar","month":"2005-07","value":138},{"series":"Sugar","month":"2005-08","value":143},{"series":"Sugar","month":"2005-09","value":150},{"series":"Sugar","month":"2005-10","value":158},{"series":"Sugar","month":"2005-11","value":164},{"series":"Sugar","month":"2005-12","value":195},
{"series":"Sugar","month":"2006-01","value":222},{"series":"Sugar","month":"2006-02","value":254},{"series":"Sugar","month":"2006-03","value":245},{"series":"Sugar","month":"2006-04","value":247},{"series":"Sugar","month":"2006-05","value":238},{"series":"Sugar","month":"2006-06","value":220},{"series":"Sugar","month":"2006-07","value":228},{"series":"Sugar","month":"2006-08","value":190},{"series":"Sugar","month":"2006-09","value":172},{"series":"Sugar","month":"2006-10","value":165},{"series":"Sugar","month":"2006-11","value":168},{"series":"Sugar","month":"2006-12","value":162},
{"series":"Sugar","month":"2007-01","value":155},{"series":"Sugar","month":"2007-02","value":149},{"series":"Sugar","month":"2007-03","value":146},{"series":"Sugar","month":"2007-04","value":139},{"series":"Sugar","month":"2007-05","value":134},{"series":"Sugar","month":"2007-06","value":131},{"series":"Sugar","month":"2007-07","value":144},{"series":"Sugar","month":"2007-08","value":140},{"series":"Sugar","month":"2007-09","value":138},{"series":"Sugar","month":"2007-10","value":142},{"series":"Sugar","month":"2007-11","value":145},{"series":"Sugar","month":"2007-12","value":148},
{"series":"Sugar","month":"2008-01","value":170},{"series":"Sugar","month":"2008-02","value":192},{"series":"Sugar","month":"2008-03","value":186},{"series":"Sugar","month":"2008-04","value":176},{"series":"Sugar","month":"2008-05","value":171},{"series":"Sugar","month":"2008-06","value":171},{"series":"Sugar","month":"2008-07","value":203},{"series":"Sugar","month":"2008-08","value":207},{"series":"Sugar","month":"2008-09","value":190},{"series":"Sugar","month":"2008-10","value":174},{"series":"Sugar","month":"2008-11","value":170},{"series":"Sugar","month":"2008-12","value":167},
{"series":"Sugar","month":"2009-01","value":176},{"series":"Sugar","month":"2009-02","value":187},{"series":"Sugar","month":"2009-03","value":191},{"series":"Sugar","month":"2009-04","value":195},{"series":"Sugar","month":"2009-05","value":228},{"series":"Sugar","month":"2009-06","value":234},{"series":"Sugar","month":"2009-07","value":263},{"series":"Sugar","month":"2009-08","value":319},{"series":"Sugar","month":"2009-09","value":328},{"series":"Sugar","month":"2009-10","value":322},{"series":"Sugar","month":"2009-11","value":316},{"series":"Sugar","month":"2009-12","value":333},
{"series":"Sugar","month":"2010-01","value":377},{"series":"Sugar","month":"2010-02","value":361},{"series":"Sugar","month":"2010-03","value":265},{"series":"Sugar","month":"2010-04","value":234},{"series":"Sugar","month":"2010-05","value":215},{"series":"Sugar","month":"2010-06","value":226},{"series":"Sugar","month":"2010-07","value":248},{"series":"Sugar","month":"2010-08","value":263},{"series":"Sugar","month":"2010-09","value":319},{"series":"Sugar","month":"2010-10","value":350},{"series":"Sugar","month":"2010-11","value":373},{"series":"Sugar","month":"2010-12","value":398},
{"series":"Sugar","month":"2011-01","value":421},{"series":"Sugar","month":"2011-02","value":418},{"series":"Sugar","month":"2011-03","value":371}
    ]
  },
  "vconcat": [
    {
      "width": 1126,
      "height": 42,
      "view": {"fill": "#ebebeb", "stroke": null},
      "data": {"values": [{"label": ""}]},
      "mark": {"type": "text", "opacity": 0},
      "encoding": {"text": {"field": "label"}}
    },
    {
      "width": 1126,
      "height": 387,
      "view": {"fill": "#e6e9f4", "stroke": null},
      "data": {"name": "fao"},
      "mark": {"type": "line", "strokeWidth": 3},
      "encoding": {
        "x": {
          "field": "month",
          "type": "temporal",
          "timeUnit": "utcyearmonth",
          "bandPosition": 0.5,
          "scale": {
            "type": "utc",
            "domain": [
              {"year": 2000, "month": 1, "date": 1, "utc": true},
              {"year": 2011, "month": 4, "date": 1, "utc": true}
            ]
          },
          "axis": {
            "format": "%-m/%Y",
            "tickCount": {"interval": "year", "step": 1},
            "grid": true,
            "tickSize": 6,
            "labelPadding": 7,
            "labelFlush": false,
            "labelOverlap": false
          }
        },
        "y": {
          "field": "value",
          "type": "quantitative",
          "scale": {"domain": [0, 450], "nice": false},
          "axis": {
            "values": [0, 50, 100, 150, 200, 250, 300, 350, 400, 450],
            "grid": true,
            "tickSize": 5,
            "labelPadding": 11
          }
        },
        "color": {
          "field": "series",
          "type": "nominal",
          "scale": {
            "domain": ["Food", "Meat", "Dairy", "Cereals", "Oils", "Sugar"],
            "range": ["#0b6fb6", "#0b6fb6", "#0b6fb6", "#c8c8c8", "#c8c8c8", "#afafaf"]
          },
          "legend": {
            "title": null,
            "orient": "none",
            "legendX": 83,
            "legendY": 2,
            "direction": "horizontal",
            "columns": 3,
            "gridAlign": "all",
            "columnPadding": 163,
            "rowPadding": 5,
            "clipHeight": 16,
            "symbolType": "stroke",
            "symbolSize": 4900,
            "symbolStrokeWidth": 3,
            "labelFontSize": 15,
            "labelOffset": 7,
            "labelColor": "#231f20",
            "labelLimit": 300,
            "labelExpr": "datum.label + ' Price Index'",
            "padding": 0
          }
        },
        "strokeDash": {
          "field": "series",
          "type": "nominal",
          "scale": {
            "domain": ["Food", "Meat", "Dairy", "Cereals", "Oils", "Sugar"],
            "range": [[1, 0], [12, 8], [26, 9, 2, 9], [8, 5], [26, 9, 2, 11, 2, 11], [1, 0]]
          },
          "legend": {
            "title": null,
            "orient": "none",
            "legendX": 83,
            "legendY": 2,
            "direction": "horizontal",
            "columns": 3,
            "gridAlign": "all",
            "columnPadding": 163,
            "rowPadding": 5,
            "clipHeight": 16,
            "symbolType": "stroke",
            "symbolSize": 4900,
            "symbolStrokeWidth": 3,
            "labelFontSize": 15,
            "labelOffset": 7,
            "labelColor": "#231f20",
            "labelLimit": 300,
            "labelExpr": "datum.label + ' Price Index'",
            "padding": 0
          }
        }
      }
    }
  ]
}
